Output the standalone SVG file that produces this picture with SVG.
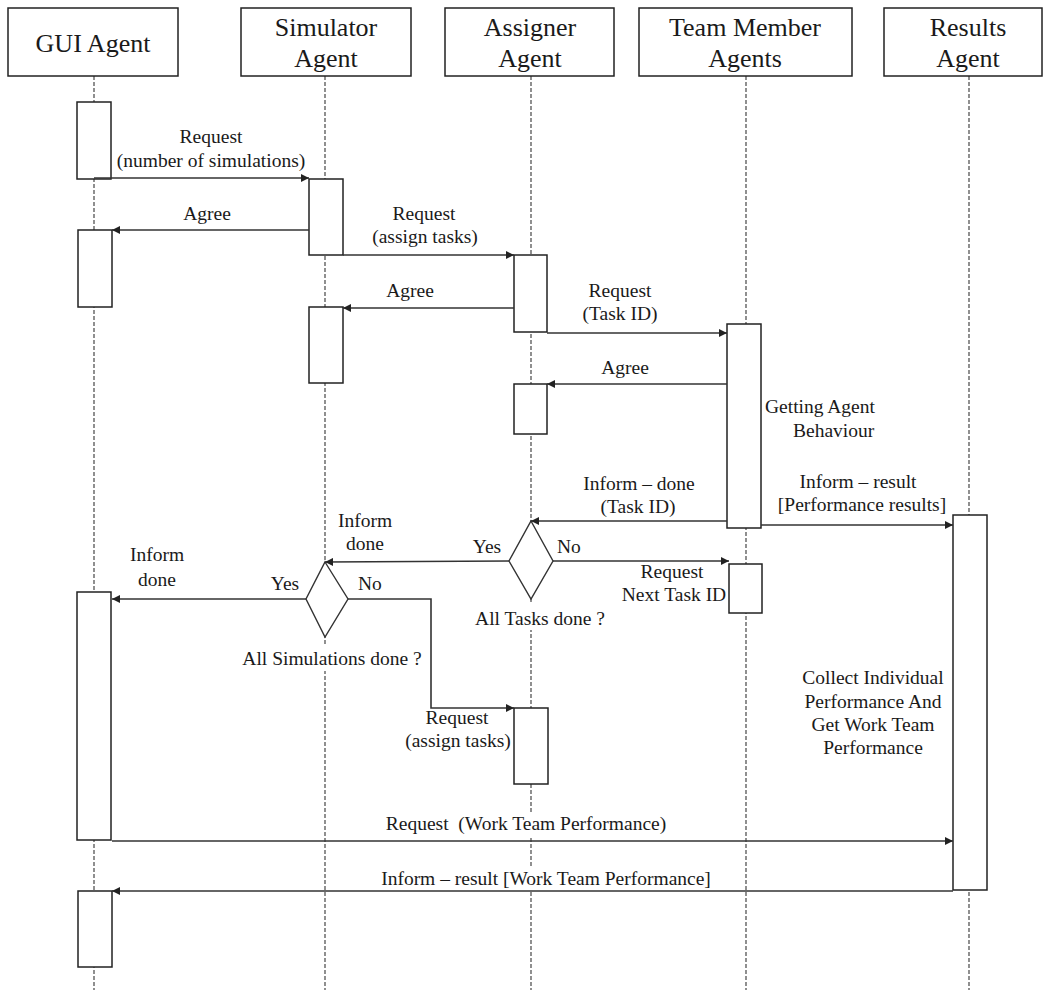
<svg xmlns="http://www.w3.org/2000/svg" width="1047" height="990" viewBox="0 0 1047 990" font-family="Liberation Serif, DejaVu Serif, serif">
  <style>
    .hdr { fill: #fff; stroke: #222; stroke-width: 1.5; }
    .hdr-t { font-size: 26px; fill: #1a1a1a; text-anchor: middle; }
    .life { stroke: #555; stroke-width: 1.3; stroke-dasharray: 4 2; fill: none; }
    .act { fill: #fff; stroke: #222; stroke-width: 1.5; }
    .msg { stroke: #333; stroke-width: 1.6; fill: none; marker-end: url(#head); }
    .dia { fill: #fff; stroke: #333; stroke-width: 1.4; }
    .t { font-size: 19.5px; fill: #1a1a1a; text-anchor: middle; }
    .ts { font-size: 19.5px; fill: #1a1a1a; }
    .mask { fill: #fff; }
  </style>
  <defs>
    <marker id="head" viewBox="0 0 10 10" refX="10" refY="5" markerWidth="9" markerHeight="8" markerUnits="userSpaceOnUse" orient="auto">
      <path d="M0,0 L10,5 L0,10 z" fill="#222"/>
    </marker>
  </defs>
  <rect width="1047" height="990" fill="#fff"/>

  <!-- lifelines -->
  <g id="lifelines">
    <line class="life" x1="94" y1="76" x2="94" y2="990"/>
    <line class="life" x1="325" y1="76" x2="325" y2="990"/>
    <line class="life" x1="531" y1="76" x2="531" y2="990"/>
    <line class="life" x1="746" y1="76" x2="746" y2="990"/>
    <line class="life" x1="969" y1="76" x2="969" y2="990"/>
  </g>

  <!-- agent headers -->
  <g id="gui-agent">
    <rect class="hdr" x="8" y="8" width="170" height="68"/>
    <text class="hdr-t" font-family="Liberation Serif, serif" x="93" y="52">GUI Agent</text>
  </g>
  <g id="simulator-agent">
    <rect class="hdr" x="241" y="8" width="170" height="68"/>
    <text class="hdr-t" font-family="Liberation Serif, serif" x="326" y="36">Simulator</text>
    <text class="hdr-t" font-family="Liberation Serif, serif" x="326" y="67">Agent</text>
  </g>
  <g id="assigner-agent">
    <rect class="hdr" x="445" y="8" width="169" height="68"/>
    <text class="hdr-t" font-family="Liberation Serif, serif" x="530" y="36">Assigner</text>
    <text class="hdr-t" font-family="Liberation Serif, serif" x="530" y="67">Agent</text>
  </g>
  <g id="team-member-agents">
    <rect class="hdr" x="639" y="8" width="213" height="68"/>
    <text class="hdr-t" font-family="Liberation Serif, serif" x="745" y="36">Team Member</text>
    <text class="hdr-t" font-family="Liberation Serif, serif" x="745" y="67">Agents</text>
  </g>
  <g id="results-agent">
    <rect class="hdr" x="884" y="8" width="158" height="68"/>
    <text class="hdr-t" font-family="Liberation Serif, serif" x="968" y="36">Results</text>
    <text class="hdr-t" font-family="Liberation Serif, serif" x="968" y="67">Agent</text>
  </g>

  <!-- activation bars -->
  <g id="activations">
    <rect class="act" x="77" y="102" width="34" height="77"/>
    <rect class="act" x="78" y="230" width="34" height="77"/>
    <rect class="act" x="77" y="592" width="34" height="248"/>
    <rect class="act" x="78" y="891" width="34" height="76"/>
    <rect class="act" x="309" y="179" width="34" height="76"/>
    <rect class="act" x="309" y="307" width="34" height="76"/>
    <rect class="act" x="514" y="255" width="33" height="77"/>
    <rect class="act" x="514" y="384" width="33" height="50"/>
    <rect class="act" x="514" y="708" width="34" height="76"/>
    <rect class="act" x="727" y="324" width="34" height="204"/>
    <rect class="act" x="729" y="564" width="33" height="49"/>
    <rect class="act" x="953" y="515" width="34" height="375"/>
  </g>

  <!-- decisions -->
  <g id="all-tasks-done" font-family="Liberation Serif, serif">
    <polygon class="dia" points="531,521 553,561 531,599 509,561"/>
    <rect class="mask" x="474" y="604" width="138" height="26"/>
    <text class="t" x="540" y="625">All Tasks done ?</text>
  </g>
  <g id="all-simulations-done" font-family="Liberation Serif, serif">
    <polygon class="dia" points="325,562 348,599 325,637 306,599"/>
    <rect class="mask" x="240" y="644" width="184" height="27"/>
    <text class="t" x="332" y="665">All Simulations done ?</text>
  </g>

  <!-- messages -->
  <g id="connectors">
    <line class="msg" x1="94" y1="178" x2="309" y2="178"/>
    <line class="msg" x1="309" y1="230" x2="112" y2="230"/>
    <line class="msg" x1="343" y1="255" x2="514" y2="255"/>
    <line class="msg" x1="514" y1="308" x2="343" y2="308"/>
    <line class="msg" x1="547" y1="333" x2="727" y2="333"/>
    <line class="msg" x1="727" y1="384" x2="547" y2="384"/>
    <line class="msg" x1="727" y1="521" x2="531" y2="521"/>
    <line class="msg" x1="761" y1="525" x2="953" y2="525"/>
    <line class="msg" x1="553" y1="561" x2="729" y2="561"/>
    <line class="msg" x1="509" y1="561" x2="325" y2="562"/>
    <line class="msg" x1="306" y1="599" x2="112" y2="599"/>
    <polyline class="msg" points="348,599 431,599 431,708 514,708"/>
    <line class="msg" x1="112" y1="841" x2="953" y2="841"/>
    <line class="msg" x1="953" y1="891" x2="112" y2="891"/>
  </g>

  <!-- message labels -->
  <g id="labels" font-family="Liberation Serif, serif">
    <text class="t" x="211" y="143">Request</text>
    <text class="t" x="211" y="167">(number of simulations)</text>
    <text class="t" x="207" y="220">Agree</text>
    <text class="t" x="424" y="220">Request</text>
    <text class="t" x="425" y="243">(assign tasks)</text>
    <text class="t" x="410" y="297">Agree</text>
    <text class="t" x="620" y="297">Request</text>
    <text class="t" x="620" y="320">(Task ID)</text>
    <text class="t" x="625" y="374">Agree</text>
    <text class="ts" x="765" y="413">Getting Agent</text>
    <text class="ts" x="793" y="437">Behaviour</text>
    <text class="t" x="639" y="490">Inform – done</text>
    <text class="t" x="638" y="513">(Task ID)</text>
    <text class="t" x="858" y="488">Inform – result</text>
    <text class="t" x="862" y="511">[Performance results]</text>
    <text class="t" x="365" y="527">Inform</text>
    <text class="t" x="365" y="550">done</text>
    <text class="t" x="487" y="553">Yes</text>
    <text class="ts" x="557" y="553">No</text>
    <text class="t" x="672" y="578">Request</text>
    <text class="t" x="674" y="601">Next Task ID</text>
    <text class="t" x="157" y="561">Inform</text>
    <text class="t" x="157" y="586">done</text>
    <text class="t" x="285" y="590">Yes</text>
    <text class="ts" x="358" y="590">No</text>
    <text class="t" x="457" y="724">Request</text>
    <text class="t" x="458" y="747">(assign tasks)</text>
    <text class="t" x="873" y="684">Collect Individual</text>
    <text class="t" x="873" y="708">Performance And</text>
    <text class="t" x="873" y="731">Get Work Team</text>
    <text class="t" x="873" y="754">Performance</text>
    <rect class="mask" x="378" y="812" width="296" height="24"/>
    <text class="t" x="526" y="830" xml:space="preserve">Request  (Work Team Performance)</text>
    <rect class="mask" x="376" y="866" width="340" height="24"/>
    <text class="t" x="546" y="885">Inform – result [Work Team Performance]</text>
  </g>
</svg>
